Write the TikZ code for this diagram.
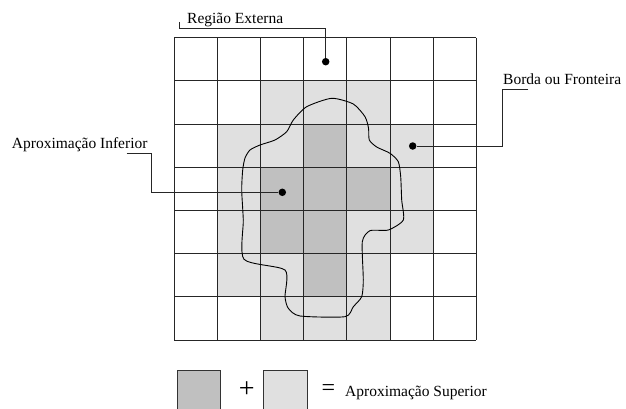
\documentclass[tikz,border=0pt]{standalone}
\usepackage{fontspec}
\setmainfont{Liberation Serif}
\definecolor{dkgray}{HTML}{C0C0C0}
\definecolor{ltgray}{HTML}{E0E0E0}
\begin{document}
\begin{tikzpicture}[x=1pt,y=-1pt,
 font=\fontsize{15.5}{18}\selectfont,
 lin/.style={line width=0.9pt,black!85},
 inner/.style={fill=dkgray},
 border/.style={fill=ltgray},
 cel/.style={draw=black!85,line width=0.9pt},
 pt/.style={circle,fill=black,inner sep=0pt,minimum size=7.5pt},
 lbl/.style={inner sep=0pt,anchor=base west},
 key/.style={draw=black!80,line width=0.9pt,minimum size=43.2pt,inner sep=0pt}]
\useasboundingbox (0,0) rectangle (626,409);
\begin{scope}[shift={(174,37.7)},x=43.2pt,y=-43.2pt]
 \foreach \c/\r in {2/1,3/1,4/1,1/2,2/2,4/2,5/2,1/3,5/3,1/4,4/4,5/4,1/5,2/5,4/5,2/6,3/6,4/6}
  \fill[border] (\c,\r) rectangle ++(1,1);
 \foreach \c/\r in {3/2,2/3,3/3,4/3,2/4,3/4,3/5}
  \fill[inner] (\c,\r) rectangle ++(1,1);
 \foreach \i in {0,...,7} {
  \draw[cel] (\i,0)--(\i,7);
  \draw[cel] (0,\i)--(7,\i);
 }
\end{scope}
\draw[line width=0.9pt] plot[smooth cycle,tension=0.4] coordinates {
 (331.7,98.3) (353.3,104) (365,116.7) (368.5,128) (369.3,140) (376.7,147)
 (390,153.3) (398.3,161.7) (400.7,176.7) (401.7,200) (403.3,220) (388.3,230)
 (370,230.7) (362.3,241.7) (363.3,280) (361.7,296.7) (353.3,306.7) (345,316.7)
 (300,316) (288.3,308.3) (285,296.7) (285,270) (244,259.3) (243.3,220)
 (241.7,190) (242.7,170) (245,158) (250,150) (260,145) (275,140)
 (286.7,131.7) (293.3,120) (306.7,106.7)};
\node[lbl] (tExt) at (187,24) {Região Externa};
\node[lbl] (tBrd) at (503,84.5) {Borda ou Fronteira};
\node[lbl] (tInf) at (11.7,148.5) {Aproximação Inferior};
\coordinate (a1) at (179.3,22);
\coordinate (a2) at (179.3,28.3);
\coordinate (b1) at (528.3,89);
\coordinate (b2) at (502.7,89);
\coordinate (c1) at (126.7,153.3);
\coordinate (c2) at (151.7,153.3);
\node[pt] (dExt) at (325.7,61.7) {};
\node[pt] (dBrd) at (412.7,146) {};
\node[pt] (dInf) at (282.3,192.3) {};
\draw[lin] (a1)--(a2)-|(dExt);
\draw[lin] (b1)--(b2)|-(dBrd);
\draw[lin] (c1)--(c2)|-(dInf);
\node[key,fill=dkgray] (kInf) at (199,391.7) {};
\node[key,fill=ltgray] (kBrd) at (285.5,391.7) {};
\node[font=\fontsize{28}{28}\selectfont] (plus) at (246.7,390) {+};
\node[font=\fontsize{24}{24}\selectfont] (eq) at (328.3,390) {=};
\node[lbl] (tSup) at (345,396) {Aproximação Superior};
\end{tikzpicture}
\end{document}
